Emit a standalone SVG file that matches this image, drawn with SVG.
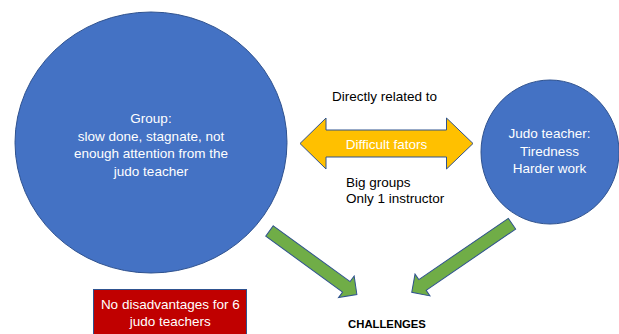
<svg xmlns="http://www.w3.org/2000/svg" width="619" height="334" viewBox="0 0 619 334">
  <style>
    .shape { stroke: #2F528F; stroke-width: 1; }
    .blue { fill: #4472C4; }
    .yellow { fill: #FFC000; }
    .green { fill: #70AD47; }
    .red { fill: #C00000; }
    text { font-family: "Liberation Sans", Arial, sans-serif; font-size: 13.5px; }
    .light { fill: #FFFFFF; text-anchor: middle; }
    .dark { fill: #000000; }
    .title { font-weight: bold; font-size: 11.3px; text-anchor: middle; }
  </style>

  <rect width="619" height="334" fill="#FFFFFF"/>

  <g id="group-node">
    <ellipse class="shape blue" cx="151" cy="142.5" rx="136" ry="130.5"/>
    <text class="light" x="151" y="123" font-size="13.8">Group:</text>
    <text class="light" x="151" y="140.5" font-size="13.8">slow done, stagnate, not</text>
    <text class="light" x="151" y="158" font-size="13.8">enough attention from the</text>
    <text class="light" x="151" y="175.5" font-size="13.8">judo teacher</text>
  </g>

  <g id="teacher-node">
    <ellipse class="shape blue" cx="550" cy="152" rx="69" ry="72"/>
    <text class="light" x="549.5" y="138">Judo teacher:</text>
    <text class="light" x="549.5" y="155.5">Tiredness</text>
    <text class="light" x="549.5" y="173">Harder work</text>
  </g>

  <g id="factors-node">
    <polygon class="shape yellow" points="300,143.5 326,118 326,130 446.5,130 446.5,118 473,143.5 446.5,169 446.5,157 326,157 326,169"/>
    <text class="light" x="386.5" y="149">Difficult fators</text>
    <text class="dark" x="384.5" y="101" text-anchor="middle">Directly related to</text>
    <text class="dark" x="346" y="186.5">Big groups</text>
    <text class="dark" x="346" y="203">Only 1 instructor</text>
  </g>

  <g id="note-node">
    <rect class="shape red" x="93.5" y="289.5" width="153" height="50"/>
    <text class="light" x="170.3" y="309.3" font-size="12.6">No disadvantages for 6</text>
    <text class="light" x="170.3" y="326" font-size="12.6">judo teachers</text>
  </g>

  <g id="challenges-node">
    <text class="dark title" x="387" y="327.5">CHALLENGES</text>
  </g>

  <!-- block arrows drawn along +x from the tail centre, then rotated into place -->
  <g id="connectors">
    <polygon class="shape green" transform="translate(269.5,231) rotate(36)" points="0,-6.4 95,-6.4 95,-13.3 108,0 95,13.3 95,6.4 0,6.4"/>
    <polygon class="shape green" transform="translate(512,223.7) rotate(145.6)" points="0,-6.5 108.5,-6.5 108.5,-13.2 121.5,0 108.5,13.2 108.5,6.5 0,6.5"/>
  </g>
</svg>
